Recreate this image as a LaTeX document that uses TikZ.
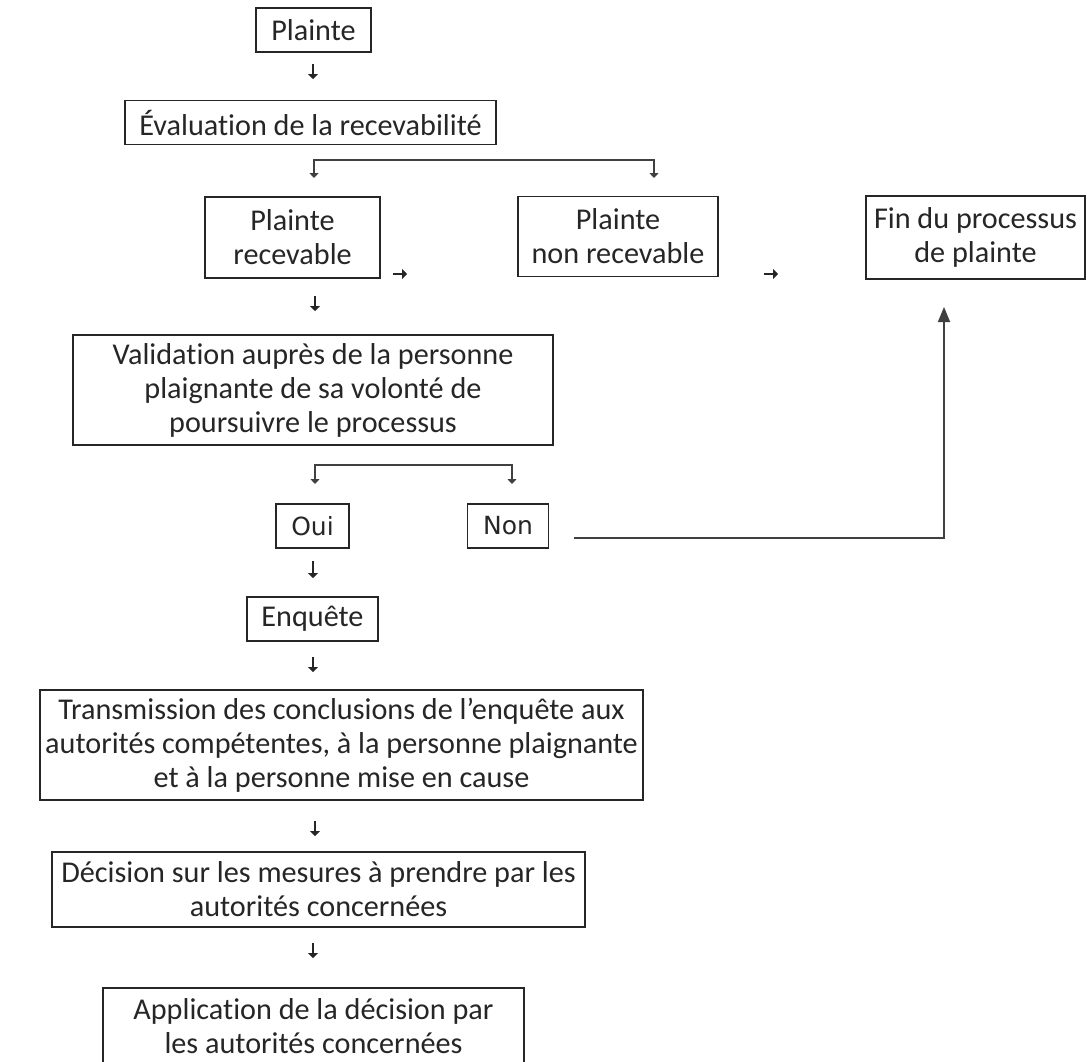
\documentclass[tikz,border=0pt]{standalone}
\usepackage{fontspec}
\setmainfont[Ligatures=CommonOff]{Carlito}
\newfontfamily\dvfont{DejaVu Sans}
\usetikzlibrary{arrows.meta}
\begin{document}
\begin{tikzpicture}[x=1pt,y=-1pt,
  box/.style={draw=black!85, line width=1.6pt, align=center, inner sep=0pt,
    font=\fontsize{30.2}{34}\selectfont, text=black!85},
  abox/.style={box, font=\dvfont\fontsize{25}{28}\selectfont},
  tiny/.style={draw=black!85, line width=1.5pt, -{Triangle[length=5pt,width=10pt]}},
  fork/.style={draw=black!75, line width=1.5pt, {Triangle[length=5pt,width=9pt]}-{Triangle[length=5pt,width=9pt]}},
  link/.style={draw=black!75, line width=1.5pt, -{Triangle[length=15pt,width=12pt]}}
]
\fill[white] (0,0) rectangle (1091,1061);
\useasboundingbox (0,0) rectangle (1091,1061);

\node[box, minimum width=115pt, minimum height=44pt] (plainte) at (313.5,30) {Plainte};
\node[box, minimum width=371pt, minimum height=44pt] (eval) at (310.5,122.5) {Évaluation de la recevabilité};
\node[box, minimum width=175pt, minimum height=81pt] (recev) at (292.5,237.5) {Plainte\\recevable};
\node[box, minimum width=200pt, minimum height=80pt] (nonrecev) at (618,236.5) {Plainte\\non recevable};
\node[box, minimum width=219pt, minimum height=83pt] (fin) at (975.5,237.5) {Fin du processus\\de plainte};
\node[box, minimum width=480pt, minimum height=110pt] (valid) at (313,390) {Validation auprès de la personne\\plaignante de sa volonté de\\poursuivre le processus};
\node[abox, minimum width=73pt, minimum height=44pt] (oui) at (312.5,526) {Oui};
\node[abox, minimum width=81pt, minimum height=44pt] (non) at (508,526) {Non};
\node[box, minimum width=131pt, minimum height=44pt] (enq) at (312.5,619) {Enquête};
\node[box, minimum width=603pt, minimum height=110pt] (trans) at (341.5,745) {Transmission des conclusions de l’enquête aux\\autorités compétentes, à la personne plaignante\\et à la personne mise en cause};
\node[box, minimum width=533pt, minimum height=75pt] (dec) at (318.5,889.5) {Décision sur les mesures à prendre par les\\autorités concernées};
\node[box, minimum width=421pt, minimum height=76pt] (app) at (313.5,1026) {Application de la décision par\\les autorités concernées};

% small stand-alone arrows
\coordinate (a1s) at (313,64);  \coordinate (a1e) at (313,79);
\coordinate (a2s) at (315,296); \coordinate (a2e) at (315,311);
\coordinate (a3s) at (313,561); \coordinate (a3e) at (313,578);
\coordinate (a4s) at (313,657); \coordinate (a4e) at (313,672);
\coordinate (a5s) at (315,821); \coordinate (a5e) at (315,836);
\coordinate (a6s) at (313,943); \coordinate (a6e) at (313,958);
\coordinate (r1s) at (393,274); \coordinate (r1e) at (407,274);
\coordinate (r2s) at (764,274); \coordinate (r2e) at (778,274);
\foreach \n in {a1,a2,a3,a4,a5,a6,r1,r2} \draw[tiny] (\n s) -- (\n e);

% forks
\coordinate (f1l) at (314,178); \coordinate (f1m) at (484,160); \coordinate (f1r) at (654,178);
\draw[fork] (f1l) |- (f1m) -| (f1r);
\coordinate (f2l) at (315,484); \coordinate (f2m) at (413,465); \coordinate (f2r) at (512,484);
\draw[fork] (f2l) |- (f2m) -| (f2r);

% Non -> Fin
\coordinate (ns) at (574,538); \coordinate (ne) at (944,307);
\draw[link] (ns) -| (ne);
\end{tikzpicture}
\end{document}
